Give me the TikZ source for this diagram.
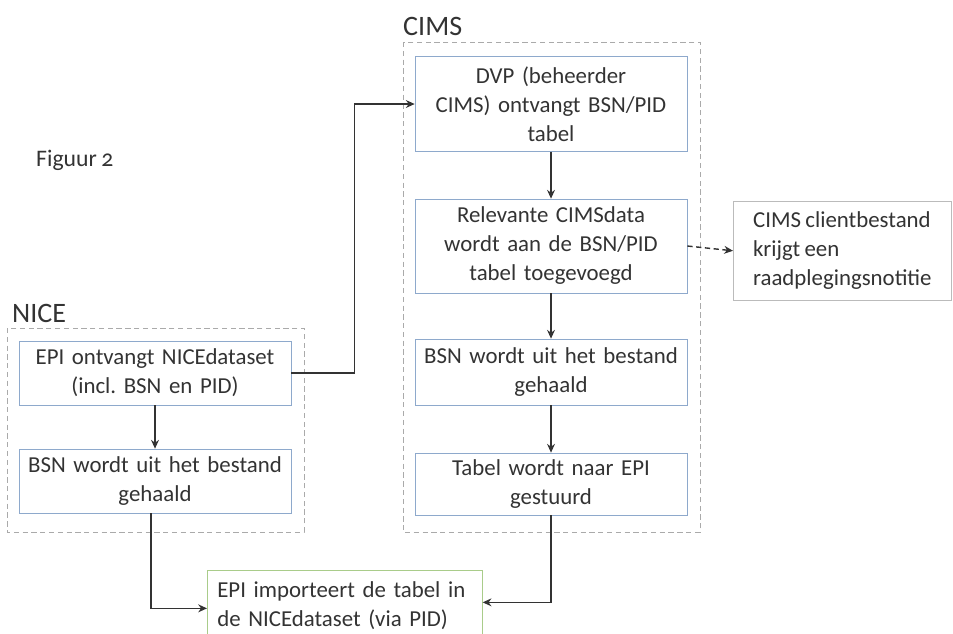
\documentclass[tikz,border=0pt]{standalone}
\usepackage{fontspec}
\setmainfont{Carlito}[Numbers=OldStyle, WordSpace=0.85]
\usetikzlibrary{arrows.meta}
\definecolor{boxblue}{HTML}{8EA9CC}
\definecolor{boxgreen}{HTML}{A9CC8A}
\definecolor{groupgray}{HTML}{AAAAAA}
\definecolor{notegray}{HTML}{BBBBBB}
\definecolor{textgray}{HTML}{333333}
\tikzset{
  stepbox/.style={draw=boxblue, fill=white, text=textgray, align=center,
    inner sep=2pt, minimum height=#1},
  notebox/.style={draw=notegray, fill=white, text=textgray, align=left,
    inner sep=6pt, anchor=north west},
  groupline/.style={draw=groupgray, densely dashed, line width=0.5pt},
  grouplabel/.style={text=textgray, font=\fontsize{16}{19}\selectfont, anchor=west},
  flow/.style={->, draw=textgray, line width=0.8pt},
}
\frenchspacing
\begin{document}
\begin{tikzpicture}[x=0.02cm, y=-0.02cm, font=\fontsize{13}{16.5}\selectfont,
    >={Stealth[length=5pt,width=4.5pt]}]
  \useasboundingbox (0,0) rectangle (953,633);
  % groepen
  \draw[groupline] (7,328) rectangle (304,532);
  \draw[groupline] (403,42) rectangle (700,532);
  \node (figuur) at (30,160) [anchor=west, text=textgray, font=\fontsize{13.5}{16}\selectfont] {Figuur 2};
  \node (nice) at (6,313) [grouplabel] {NICE};
  \node (cims) at (397,26) [grouplabel] {CIMS};
  % NICE kant
  \node (epi) at (155,373) [stepbox=1.28cm, text width=5.3cm] {EPI ontvangt NICEdataset\\(incl. BSN en PID)};
  \node (bsnnice) at (155,481) [stepbox=1.28cm, text width=5.3cm] {BSN wordt uit het bestand\\gehaald};
  % CIMS kant
  \node (dvp) at (551,104) [stepbox=1.9cm, text width=5.3cm] {DVP (beheerder\\CIMS) ontvangt BSN/PID\\tabel};
  \node (rel) at (551,246) [stepbox=1.88cm, text width=5.3cm] {Relevante CIMSdata\\wordt aan de BSN/PID\\tabel toegevoegd};
  \node (bsncims) at (551,372) [stepbox=1.32cm, text width=5.3cm] {BSN wordt uit het bestand\\gehaald};
  \node (tabel) at (551,484) [stepbox=1.24cm, text width=5.3cm] {Tabel wordt naar EPI\\gestuurd};
  \node (client) at (733,201) [notebox, minimum width=4.36cm, minimum height=1.86cm] {CIMS clientbestand\\krijgt een\\raadplegingsnotitie};
  % import
  \node (imp) at (207,570) [stepbox=1.4cm, draw=boxgreen, anchor=north west, align=left,
    text width=5.1cm, inner sep=0.2cm] {EPI importeert de tabel in\\de NICEdataset (via PID)};
  % pijlen
  \draw[flow] (epi.east) -- ++(63,0) |- (dvp.west);
  \draw[flow] (epi) -- (bsnnice);
  \draw[flow] (dvp) -- (rel);
  \draw[flow] (rel) -- (bsncims);
  \draw[flow] (bsncims) -- (tabel);
  \draw[flow, densely dashed] (rel.east) -- (client.west);
  \draw[flow] ([xshift=-0.08cm]bsnnice.south) |- ([yshift=-0.06cm]imp.west);
  \draw[flow] (tabel.south) |- ([yshift=0.06cm]imp.east);
\end{tikzpicture}
\end{document}
